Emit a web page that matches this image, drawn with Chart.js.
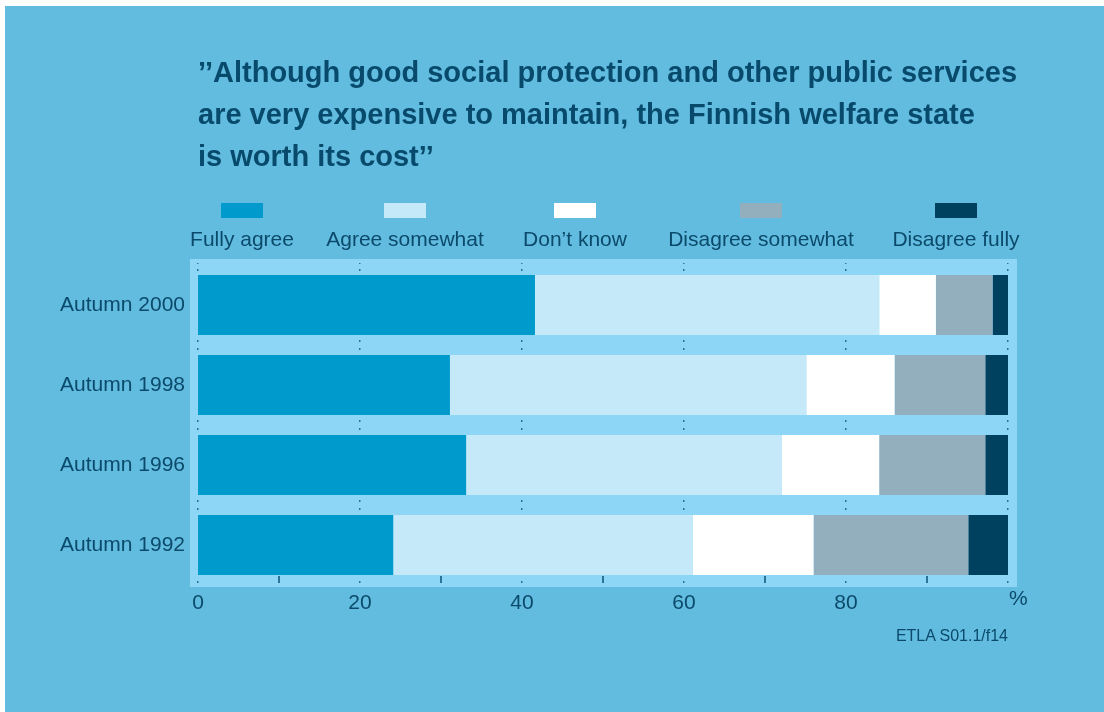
<!DOCTYPE html>
<html>
<head>
<meta charset="utf-8">
<script src="https://cdn.jsdelivr.net/npm/chart.js@4/dist/chart.umd.min.js"></script>
<style>
  html, body { margin: 0; padding: 0; background: #fff; }
  #panel { position: absolute; left: 5px; top: 6px; width: 1099px; height: 706px; background: #62bce0; }
  #wrap { position: absolute; left: 0; top: 0; width: 1104px; height: 712px; }
  .txt { position: absolute; font-family: "Liberation Sans", Arial, sans-serif; color: #0b4a6a; white-space: nowrap; }
  #title { left: 198px; top: 51px; font-size: 29px; font-weight: bold; line-height: 42px; color: #084a6b; }
  .leg { position: absolute; top: 203px; width: 42px; height: 15px; }
  .legtxt { top: 227px; font-size: 21px; transform: translateX(-50%); }
  #pct { left: 1009px; top: 586px; font-size: 21px; }
  #src { right: 96px; top: 627px; font-size: 16px; }
</style>
</head>
<body>
<div id="panel"></div>
<div id="wrap"><canvas id="myChart" width="1104" height="712"></canvas></div>
<div id="title" class="txt">’’Although good social protection and other public services<br>are very expensive to maintain, the Finnish welfare state<br>is worth its cost’’</div>
<div id="legend"></div>
<div id="pct" class="txt">%</div>
<div id="src" class="txt">ETLA S01.1/f14</div>
<script>
let labels = ['Autumn 2000', 'Autumn 1998', 'Autumn 1996', 'Autumn 1992'];
let seriesNames = ['Fully agree', 'Agree somewhat', 'Don’t know', 'Disagree somewhat', 'Disagree fully'];
let fullyAgree = [41.6, 31.1, 33.1, 24.1];
let agreeSomewhat = [42.5, 44.0, 39.0, 37.0];
let dontKnow = [7.0, 10.9, 12.0, 14.9];
let disagreeSomewhat = [7.0, 11.2, 13.1, 19.1];
let disagreeFully = [1.9, 2.8, 2.8, 4.9];
let xTicks = [0, 20, 40, 60, 80, 100];
let xTickLabels = ['0', '20', '40', '60', '80', ''];
let colors = ['#009bcc', '#c5e9f8', '#ffffff', '#93afbe', '#00415f'];
let legendCenters = [242, 405, 575, 761, 956];

// legend: swatch above each label
let legendEl = document.getElementById('legend');
seriesNames.forEach(function (name, i) {
    let box = document.createElement('div');
    box.className = 'leg';
    box.style.left = (legendCenters[i] - 21) + 'px';
    box.style.background = colors[i];
    legendEl.appendChild(box);
    let t = document.createElement('div');
    t.className = 'txt legtxt';
    t.style.left = legendCenters[i] + 'px';
    t.textContent = name;
    legendEl.appendChild(t);
});

// light plot background plus the little tick marks
let plotBg = {
    id: 'plotBg',
    beforeDatasetsDraw(chart) {
        let ctx = chart.ctx, a = chart.chartArea;
        ctx.save();
        ctx.fillStyle = '#8dd6f6';
        ctx.fillRect(a.left - 8, a.top - 6, a.right - a.left + 17, a.bottom - a.top + 8);
        ctx.restore();
    },
    afterDatasetsDraw(chart) {
        let ctx = chart.ctx, a = chart.chartArea;
        let x = chart.scales.x, y = chart.scales.y;
        ctx.save();
        ctx.fillStyle = '#2a7396';
        let band = (y.getPixelForValue(1) - y.getPixelForValue(0));
        let edges = [a.top];
        for (let i = 0; i < labels.length - 1; i++) {
            edges.push(y.getPixelForValue(i) + band / 2);
        }
        xTicks.forEach(function (v) {
            let px = Math.round(x.getPixelForValue(v));
            edges.forEach(function (e, k) {
                if (k === 0) {
                    ctx.fillRect(px - 1, e - 2, 1.5, 1);
                    ctx.fillRect(px - 1, e + 4, 1.5, 2);
                } else {
                    ctx.fillRect(px - 1, e - 5, 1.5, 2);
                    ctx.fillRect(px - 1, e + 3, 1.5, 2);
                }
            });
            ctx.fillRect(px - 1, a.bottom - 4, 1.5, 2);
        });
        for (let v = 10; v < 100; v += 20) {
            let px = Math.round(x.getPixelForValue(v));
            ctx.fillRect(px - 1, a.bottom - 9, 2, 7);
        }
        ctx.restore();
    }
};

let allData = [fullyAgree, agreeSomewhat, dontKnow, disagreeSomewhat, disagreeFully];

let chart = new Chart(document.getElementById('myChart').getContext('2d'), {
    type: 'bar',
    data: {
        labels: labels,
        datasets: allData.map(function (d, i) {
            return {
                label: seriesNames[i],
                data: d,
                backgroundColor: colors[i],
                borderWidth: 0,
                barPercentage: 0.75,
                categoryPercentage: 1
            };
        })
    },
    options: {
        indexAxis: 'y',
        responsive: false,
        animation: false,
        devicePixelRatio: 1,
        layout: { padding: { left: 0, right: 96, top: 265, bottom: 0 } },
        plugins: {
            legend: { display: false },
            tooltip: { enabled: false }
        },
        scales: {
            x: {
                stacked: true,
                min: 0,
                max: 100,
                afterFit: function (s) { s.height = 127; },
                afterBuildTicks: function (s) { s.ticks = xTicks.map(function (v) { return { value: v }; }); },
                grid: { display: false, drawTicks: false },
                border: { display: false },
                ticks: {
                    padding: 6,
                    autoSkip: false,
                    maxRotation: 0,
                    color: '#0b4a6a',
                    font: { family: '"Liberation Sans", Arial, sans-serif', size: 21 },
                    callback: function (v, i) { return xTickLabels[i]; }
                }
            },
            y: {
                stacked: true,
                afterFit: function (s) { s.width = 198; },
                grid: { display: false, drawTicks: false },
                border: { display: false },
                ticks: {
                    padding: 13,
                    color: '#0b4a6a',
                    font: { family: '"Liberation Sans", Arial, sans-serif', size: 21 }
                }
            }
        }
    },
    plugins: [plotBg]
});
</script>
</body>
</html>
